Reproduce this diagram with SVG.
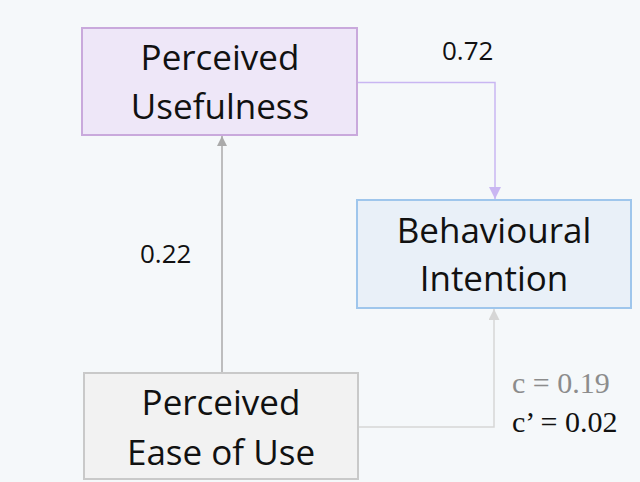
<svg xmlns="http://www.w3.org/2000/svg" width="640" height="482" viewBox="0 0 640 482">
<style>
.node text{font-family:"Open Sans","Noto Sans",sans-serif;font-size:35px;fill:#111;text-anchor:middle}
.lbl{font-family:"Open Sans","Noto Sans",sans-serif;font-size:26px;fill:#111}
.ser{font-family:"Liberation Serif",serif;font-size:30px}
.conn{fill:none;stroke-width:1.5}
</style>
<defs>
<marker id="ag" viewBox="0 0 10 10" refX="10" refY="5" markerWidth="10" markerHeight="10" markerUnits="userSpaceOnUse" orient="auto"><path d="M0,0L10,5L0,10z" fill="#aaaaaa"/></marker>
<marker id="ap" viewBox="0 0 10 10" refX="10" refY="5" markerWidth="12" markerHeight="12" markerUnits="userSpaceOnUse" orient="auto"><path d="M0,0L10,5L0,10z" fill="#c9b6f2"/></marker>
<marker id="al" viewBox="0 0 10 10" refX="10" refY="5" markerWidth="11" markerHeight="11" markerUnits="userSpaceOnUse" orient="auto"><path d="M0,0L10,5L0,10z" fill="#d6d6d6"/></marker>
</defs>
<rect width="640" height="482" fill="#f5f8fa"/>
<g id="connectors">
<path class="conn" d="M222,373V136" stroke="#aaaaaa" marker-end="url(#ag)"/>
<path class="conn" d="M357,82.5H495V199" stroke="#c9b6f2" marker-end="url(#ap)"/>
<path class="conn" d="M358,427H494V309" stroke="#d6d6d6" marker-end="url(#al)"/>
</g>
<g id="pu" class="node">
<rect x="82" y="28" width="275" height="107" fill="#eee7f8" stroke="#c9a9dc" stroke-width="2"/>
<text x="220" y="70">Perceived</text>
<text x="220" y="119">Usefulness</text>
</g>
<g id="bi" class="node">
<rect x="357" y="200" width="274" height="108" fill="#e9f0f8" stroke="#9fc6ec" stroke-width="2"/>
<text x="494" y="243">Behavioural</text>
<text x="494" y="291">Intention</text>
</g>
<g id="peou" class="node">
<rect x="84" y="373" width="274" height="106" fill="#f2f2f2" stroke="#c9c9c9" stroke-width="2"/>
<text x="221" y="415">Perceived</text>
<text x="221" y="465">Ease of Use</text>
</g>
<g id="labels">
<text class="lbl" x="442" y="60">0.72</text>
<text class="lbl" x="140" y="263">0.22</text>
<text class="ser" x="512" y="393" fill="#8c8c8c">c = 0.19</text>
<text class="ser" x="512" y="432" fill="#111">c’ = 0.02</text>
</g>
</svg>
